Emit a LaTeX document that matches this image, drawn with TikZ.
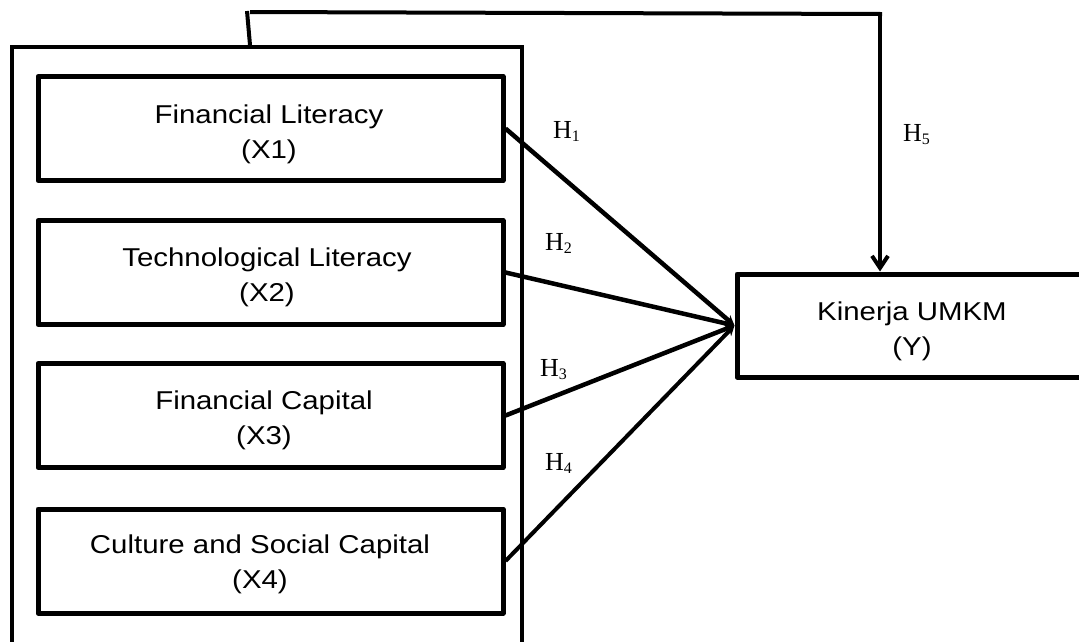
\documentclass[tikz,border=0pt]{standalone}
\usepackage{fontspec}
\setmainfont{Liberation Serif}
\newfontfamily\boxfont[FakeStretch=1.14]{Liberation Sans}
\usetikzlibrary{arrows.meta}
\newcommand{\hsub}[1]{H\raisebox{-3pt}{\fontsize{16}{16}\selectfont #1}}
\begin{document}
\begin{tikzpicture}[x=1pt,y=-1pt,
  vbox/.style={draw, line width=5pt, line join=round, minimum width=465pt, minimum height=104pt, inner sep=0pt},
  kbox/.style={draw, line width=5pt, line join=round, minimum width=348pt, minimum height=103pt, inner sep=0pt},
  obox/.style={draw, line width=4pt, minimum width=510pt, minimum height=700pt, inner sep=0pt, anchor=north west},
  boxtxt/.style={anchor=base, inner sep=0pt, font=\boxfont\fontsize{25.8}{30}\selectfont},
  hlab/.style={anchor=base west, inner sep=0pt, font=\fontsize{26}{30}\selectfont},
  link/.style={line width=4.5pt, -{Stealth[length=10pt,width=10pt]}},
  hline/.style={line width=4pt}]
\useasboundingbox (0,0) rectangle (1079,641);
\clip (0,0) rectangle (1079,641);
% outer frame
\node[obox] (outer) at (10,45) {};
% variable boxes
\node[vbox] (x1) at (270.5,128.5) {};
\node[vbox] (x2) at (270.5,272.5) {};
\node[vbox] (x3) at (270.5,415.5) {};
\node[vbox] (x4) at (270.5,561) {};
\node[kbox] (kin) at (911,325.5) {};
% texts
\node[boxtxt] (x1a) at (269,123) {Financial Literacy};
\node[boxtxt] (x1b) at (269,158) {(X1)};
\node[boxtxt] (x2a) at (267,266) {Technological Literacy};
\node[boxtxt] (x2b) at (267,301) {(X2)};
\node[boxtxt] (x3a) at (264,409) {Financial Capital};
\node[boxtxt] (x3b) at (264,444) {(X3)};
\node[boxtxt] (x4a) at (260,553) {Culture and Social Capital};
\node[boxtxt] (x4b) at (260,588) {(X4)};
\node[boxtxt] (ka) at (912,320) {Kinerja UMKM};
\node[boxtxt] (kb) at (912,355) {(Y)};
% hypothesis labels
\node[hlab] (h1) at (553,138) {\hsub{1}};
\node[hlab] (h2) at (545,250) {\hsub{2}};
\node[hlab] (h3) at (540,376) {\hsub{3}};
\node[hlab] (h4) at (545,470) {\hsub{4}};
\node[hlab] (h5) at (903,141) {\hsub{5}};
% connectors
\draw[link] (x1.east) -- (kin.west);
\draw[link] (x2.east) -- (kin.west);
\draw[link] (x3.east) -- (kin.west);
\draw[link, line width=4pt] (x4.east) -- (kin.west);
% H5 path
\coordinate (p0) at (250,45);
\coordinate (p1) at (247,11);
\coordinate (p2) at (250,12);
\coordinate (p3) at (882,14);
\coordinate (p4) at (880,14);
\draw[hline] (p0) -- (p1);
\draw[hline] (p2) -- (p3);
\draw[hline, -{Straight Barb[length=12pt,width=16pt]}] (p4) -- (p4 |- kin.north);
\end{tikzpicture}
\end{document}
